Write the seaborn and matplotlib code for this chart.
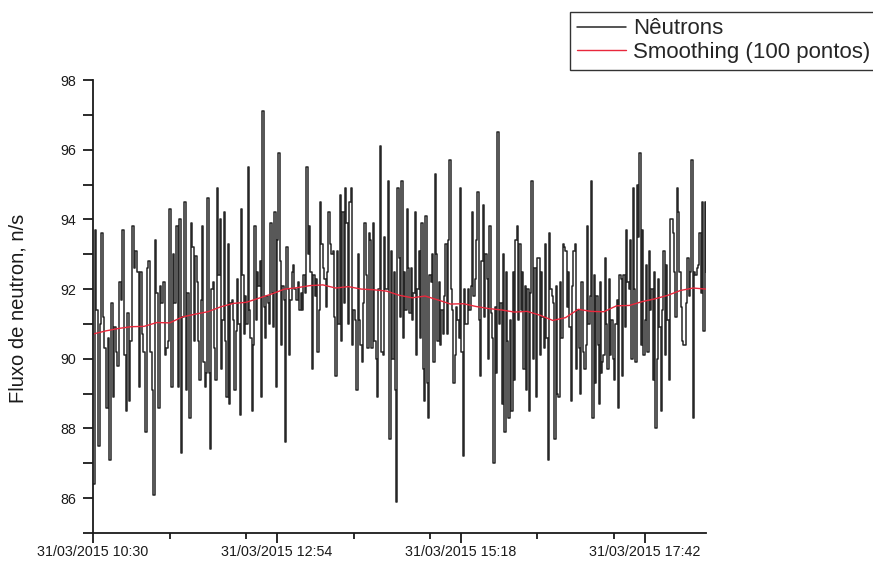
import numpy as np
import pandas as pd
import matplotlib
matplotlib.use("Agg")
import matplotlib.pyplot as plt
import matplotlib.dates as mdates
from matplotlib.ticker import FixedLocator, NullFormatter
import seaborn as sns

# Neutron flux readings (n/s), grouped in consecutive blocks of the run
flux_a = [86.4, 93.7, 91.4, 87.5, 91.0, 93.6, 91.2, 90.3, 88.6, 90.6, 87.1, 91.6, 88.9, 90.9, 90.2,
          89.8, 92.2, 91.7, 93.7, 90.1, 88.5, 91.3, 88.8, 90.5, 93.8, 92.6, 93.1, 92.5, 89.2, 92.5,
          90.7, 90.2, 87.9, 92.6, 92.8, 90.2, 89.1, 86.1, 93.4, 91.9, 88.6, 92.1, 91.6, 92.2, 90.1,
          90.3, 90.5, 94.3, 89.2, 93.0, 91.6, 93.8, 89.2, 94.0, 87.3, 91.2, 94.5, 89.1, 91.9, 88.3,
          93.9, 93.2, 90.5]
flux_b = [92.95, 92.2, 90.5, 89.4, 91.7, 93.8, 89.9, 89.2, 89.6, 94.6, 89.6, 87.4, 92.0, 92.2, 90.3,
          89.4, 94.9, 92.4, 94.0, 89.7, 91.1, 94.2, 90.5, 88.9, 93.3, 88.7, 91.6, 91.7, 91.1, 89.1,
          90.8, 92.3, 91.0, 88.4, 94.3, 92.4, 90.7, 91.8, 91.0, 95.5, 91.4, 90.6, 88.5, 90.4, 93.8,
          91.1, 92.5, 92.1, 92.8, 88.9, 97.1, 91.5, 90.6, 91.8, 91.6, 91.0, 93.9, 91.9, 90.9, 94.2,
          89.2, 93.4, 95.9, 92.8, 90.4, 92.1, 91.7, 87.6, 93.2, 92.0, 90.1, 91.7, 92.5, 92.7, 92.0,
          91.7]
flux_c = [92.2, 91.4, 91.9, 91.4, 92.4, 91.9, 95.5, 93.0, 93.8, 92.5, 89.7, 92.4, 91.8, 92.3, 90.2,
          91.4, 94.5, 93.3, 92.6, 92.3, 91.5, 92.5, 94.2, 93.3, 93.0, 93.1, 91.2, 89.5, 93.1, 91.0,
          94.7, 90.5, 94.2, 91.6, 94.9, 93.9, 91.0, 94.5, 94.9, 90.4, 91.4, 91.1, 89.1, 93.0, 91.1,
          90.4, 89.9, 91.6, 93.9, 92.4, 90.3, 93.6, 93.4, 90.3, 93.9, 90.5, 90.0, 88.9, 92.0, 96.1,
          90.2, 90.1, 93.5, 92.0, 92.0, 95.1, 87.7, 93.1, 90.0, 92.5, 89.1, 85.9]
flux_d = [94.9, 92.9, 91.2, 95.1, 90.6, 92.5, 91.4, 94.3, 92.6, 91.3, 92.6, 91.1, 91.9, 94.2, 90.1,
          92.0, 93.1, 90.6, 93.9, 89.7, 88.8, 94.1, 89.3, 88.3, 92.4, 92.2, 93.0, 89.9, 95.3, 93.0,
          90.5, 92.2, 90.4, 91.4, 90.7, 91.8, 93.3, 90.7, 93.4, 95.7, 92.0, 91.4, 89.3, 90.1, 91.5,
          91.1, 90.6, 94.9, 90.2, 87.2, 92.0, 91.0, 91.0, 92.0, 91.4, 92.1, 94.2, 91.8, 92.3, 93.4,
          94.8, 91.1, 89.5, 92.8, 94.4, 91.2, 93.0, 92.3, 90.0, 93.8, 91.3, 90.6, 87.0, 91.5, 89.6,
          96.5, 91.0]
flux_e = [91.6, 88.7, 93.0, 87.9, 92.5, 90.5, 88.3, 91.1, 88.5, 92.5, 89.4, 93.4, 93.8, 91.1, 93.3,
          91.4, 92.5, 89.7, 92.1, 89.1, 92.0, 88.5, 91.9, 95.1, 90.0, 92.6, 88.9, 92.9, 92.9, 90.1,
          92.5, 91.2, 90.3, 93.3, 90.6, 87.1, 93.6, 92.0, 91.8, 91.6, 87.7, 92.1, 89.0, 88.9, 92.2,
          90.6, 93.3, 93.2, 93.1, 91.5, 92.5, 90.9, 88.8, 92.1, 93.1, 93.3, 89.7, 91.4, 90.3, 89.0,
          92.2, 90.2, 89.7, 90.4, 93.8, 91.0, 91.8, 95.1, 88.3, 92.4, 89.3, 91.8, 90.4, 88.7, 92.2]
flux_f = [89.6, 89.9, 90.1, 92.9, 91.0, 89.7, 92.3, 90.1, 91.1, 90.0, 89.4, 91.0, 91.7, 88.6, 92.4,
          92.3, 89.5, 92.4, 90.9, 93.7, 92.2, 92.0, 93.4, 90.0, 94.9, 92.0, 89.9, 95.0, 93.5, 95.9,
          90.4, 93.7, 90.1, 91.1, 92.7, 90.2, 93.1, 91.4, 92.0, 89.4, 92.5, 88.0, 90.0, 92.3, 90.9,
          88.5, 91.4, 93.1, 90.1, 92.7, 91.1, 89.4, 94.0, 94.0, 93.6, 92.5, 91.2, 94.9, 94.2, 92.5,
          91.5, 90.5, 90.4, 90.4, 91.6, 92.9, 91.8, 92.5, 95.7, 88.3, 92.5, 92.4, 92.6, 92.7, 93.6,
          91.9, 94.5, 90.8, 94.5, 92.5]

# First and last reading of each block, in minutes after the start of the run
block_minutes = [(0.0, 79.0), (80.2, 158.8), (160.4, 237.6),
                 (238.4, 317.7), (319.0, 397.3), (397.6, 480.0)]

# 100-point smoothing, one value every 10 minutes
smooth_step_min = 10
smooth_values = [90.71, 90.80, 90.87, 90.92, 90.93, 91.04, 91.03, 91.20, 91.28, 91.35,
                 91.49, 91.59, 91.62, 91.74, 91.86, 92.00, 92.04, 92.10, 92.12, 92.03,
                 92.07, 92.00, 91.98, 91.94, 91.82, 91.75, 91.80, 91.69, 91.57, 91.58,
                 91.50, 91.44, 91.40, 91.34, 91.36, 91.25, 91.10, 91.18, 91.42, 91.36,
                 91.35, 91.52, 91.53, 91.64, 91.72, 91.82, 91.96, 92.03, 92.00, 91.90]

start = pd.Timestamp("2015-03-31 10:30")
end = pd.Timestamp("2015-03-31 18:30")
major_times = ["10:30", "12:54", "15:18", "17:42"]
y_min, y_max = 85, 98

# Assemble the raw series
blocks = [flux_a, flux_b, flux_c, flux_d, flux_e, flux_f]
minutes, values = [], []
for vals, (m0, m1) in zip(blocks, block_minutes):
    minutes.extend(np.linspace(m0, m1, len(vals)))
    values.extend(vals)
raw = pd.DataFrame({"time": start + pd.to_timedelta(minutes, unit="min"), "flux": values})

smooth = pd.DataFrame({
    "time": start + pd.to_timedelta(np.arange(len(smooth_values)) * smooth_step_min, unit="min"),
    "flux": smooth_values,
})

sns.set_style("ticks")
plt.rcParams["font.family"] = ["Liberation Sans", "DejaVu Sans"]

fig = plt.figure(figsize=(8.73, 5.65), dpi=100)
ax = fig.add_axes([93 / 873, 1 - 533 / 565, 613 / 873, 453 / 565])

sns.lineplot(data=raw, x="time", y="flux", ax=ax, estimator=None, sort=False,
             drawstyle="steps-post", color="#262626", linewidth=1.1, label="Nêutrons")
sns.lineplot(data=smooth, x="time", y="flux", ax=ax, estimator=None, sort=False,
             color="#e8283c", linewidth=1.0, label="Smoothing (100 pontos)")

# Axes limits and ticks
ax.set_xlim(start, end)
ax.set_ylim(y_min, y_max)
majors = [pd.Timestamp(f"2015-03-31 {t}") for t in major_times]
minors = [m + pd.Timedelta(minutes=k) for m in majors for k in (60, 120)]
minors = [m for m in minors if m <= end]
ax.xaxis.set_major_locator(FixedLocator(mdates.date2num(majors)))
ax.xaxis.set_minor_locator(FixedLocator(mdates.date2num(minors)))
ax.xaxis.set_major_formatter(mdates.DateFormatter("%d/%m/%Y %H:%M"))
ax.xaxis.set_minor_formatter(NullFormatter())
ax.set_yticks(np.arange(86, 99, 2))
ax.set_yticks(np.arange(85, 99, 1), minor=True)

for side in ("top", "right"):
    ax.spines[side].set_visible(False)
for side in ("left", "bottom"):
    ax.spines[side].set_linewidth(1.3)
    ax.spines[side].set_color("#1a1a1a")

ax.tick_params(axis="x", which="major", direction="out", length=7, width=1.3,
               color="#1a1a1a", labelsize=10.3, pad=2)
ax.tick_params(axis="x", which="minor", direction="out", length=4, width=1.3, color="#1a1a1a")
ax.tick_params(axis="y", which="both", direction="out", length=7, width=1.3,
               color="#1a1a1a", labelsize=10.3, pad=5)
for lab in ax.get_xticklabels() + ax.get_yticklabels():
    lab.set_color("#1a1a1a")

ax.set_xlabel("")
ax.set_ylabel("Fluxo de neutron, n/s", fontsize=14.5, color="#1a1a1a")
ax.yaxis.label.set_verticalalignment("center")
ax.yaxis.set_label_coords(-75 / 613, 0.4956)

leg = ax.legend(loc="upper left", bbox_to_anchor=(570 / 873, 1 - 11.7 / 565),
                bbox_transform=fig.transFigure, fontsize=16, frameon=True,
                fancybox=False, framealpha=1, edgecolor="#333333",
                handlelength=2.2, handletextpad=0.33, borderpad=0.3,
                labelspacing=0.12, borderaxespad=0)
leg.get_frame().set_linewidth(1.0)

fig.savefig("out.png", dpi=100)
